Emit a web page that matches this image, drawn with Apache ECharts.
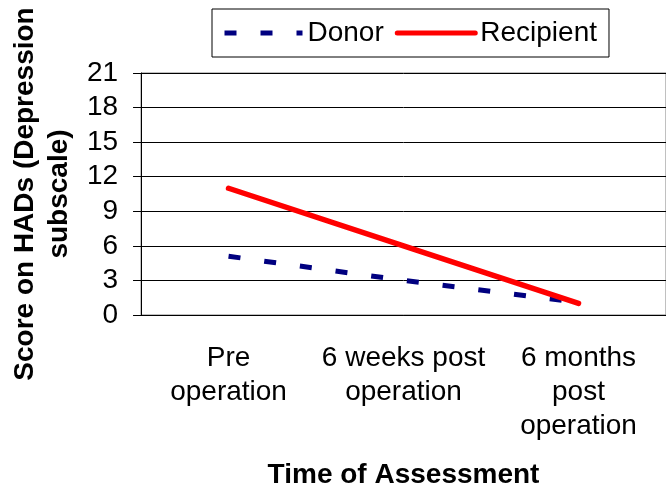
<!DOCTYPE html>
<html>
<head>
<meta charset="utf-8">
<script src="https://cdn.jsdelivr.net/npm/echarts@6/dist/echarts.min.js"></script>
<style>
  html, body { margin: 0; padding: 0; background: #fff; }
  #chart { width: 666px; height: 490px; }
</style>
</head>
<body>
<div id="chart"></div>
<script>
var categories = ['Pre\noperation', '6 weeks post\noperation', '6 months\npost\noperation'];
var donor = [5.1, 3, 1.1];
var recipient = [11, 6, 1];
var yTicks = { min: 0, max: 21, step: 3 };

var font = "'Liberation Sans', Arial, sans-serif";
var myChart = echarts.init(document.getElementById('chart'));

option = {
    backgroundColor: '#fff',
    animation: false,
    legend: {
        left: 212,
        top: 9,
        padding: [10, 12, 10, 10],
        borderColor: '#000',
        borderWidth: 1,
        itemWidth: 78,
        itemHeight: 10,
        itemGap: 11,
        itemStyle: { opacity: 0 },
        lineStyle: { width: 5 },
        textStyle: { fontFamily: font, fontSize: 28, color: '#000' },
        data: ['Donor', 'Recipient']
    },
    grid: {
        left: 141,
        top: 73,
        right: -7,
        bottom: 175,
        show: true,
        borderColor: '#808080',
        borderWidth: 1
    },
    xAxis: {
        type: 'category',
        data: categories,
        boundaryGap: true,
        name: 'Time of Assessment',
        nameLocation: 'middle',
        nameGap: 146,
        nameTextStyle: { fontFamily: font, fontSize: 28, fontWeight: 'bold', color: '#000' },
        axisLine: { lineStyle: { color: '#000', width: 1 } },
        axisTick: { length: 8, lineStyle: { color: '#000' } },
        axisLabel: {
            interval: 0,
            margin: 26,
            fontFamily: font,
            fontSize: 28,
            lineHeight: 34,
            color: '#000',
            align: 'center'
        },
        splitLine: { show: false }
    },
    yAxis: {
        type: 'value',
        min: yTicks.min,
        max: yTicks.max,
        interval: yTicks.step,
        name: 'Score on HADs (Depression\nsubscale)',
        nameLocation: 'middle',
        nameRotate: 90,
        nameGap: 62,
        nameTextStyle: { fontFamily: font, fontSize: 28, fontWeight: 'bold', color: '#000', lineHeight: 34 },
        axisLine: { show: true, lineStyle: { color: '#000', width: 1 } },
        axisTick: { show: true, length: 8, lineStyle: { color: '#000' } },
        axisLabel: { margin: 23, fontFamily: font, fontSize: 28, color: '#000' },
        splitLine: { show: true, lineStyle: { color: '#000', width: 1 } }
    },
    series: [
        {
            name: 'Donor',
            type: 'line',
            symbol: 'none',
            data: donor,
            lineStyle: { color: '#000080', width: 5, type: [12, 24], cap: 'butt' },
            itemStyle: { color: '#000080' }
        },
        {
            name: 'Recipient',
            type: 'line',
            symbol: 'none',
            data: recipient,
            lineStyle: { color: '#ff0000', width: 5.5, cap: 'round' },
            itemStyle: { color: '#ff0000' }
        }
    ]
};

myChart.setOption(option);
</script>
</body>
</html>
